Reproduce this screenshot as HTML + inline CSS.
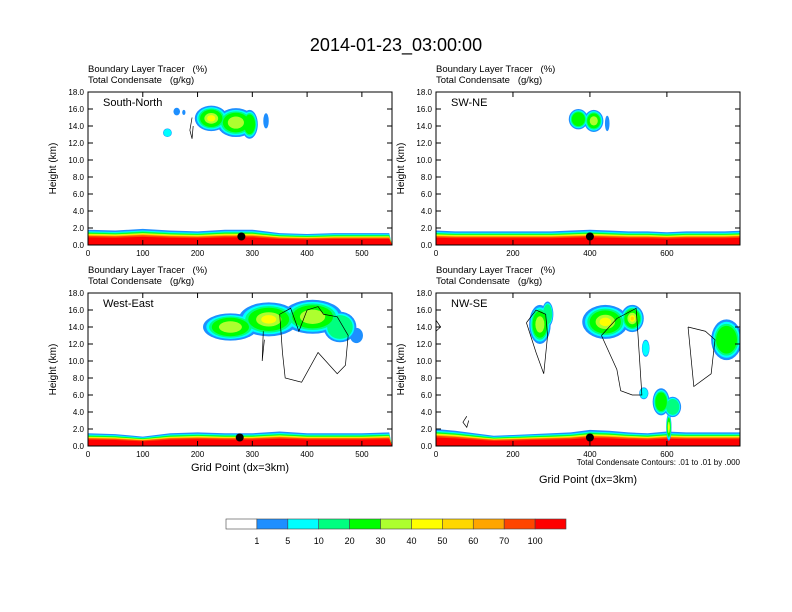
<!DOCTYPE html>
<html><head><meta charset="utf-8"><style>
html,body{margin:0;padding:0;background:#fff;}
svg{display:block;font-family:"Liberation Sans",sans-serif;}
.pre{white-space:pre;}
</style></head><body>
<svg id="fig" width="792" height="612" viewBox="0 0 792 612">
<text x="396" y="51" font-size="18" text-anchor="middle">2014-01-23_03:00:00</text>
</svg>
<script>
// ---- data ----
const levels = [1,5,10,20,30,40,50,60,70,100];
const levelColors = ["#ffffff","#1e8fff","#00ffff","#00ff80","#00ff00","#adff2f","#ffff00","#ffd700","#ffa500","#ff4500","#ff0000"];
const yTicks = [0,2,4,6,8,10,12,14,16,18];
const panelNames = ["South-North","SW-NE","West-East","NW-SE"];
const panelXMax = [555,790,555,790];
const panelXTicks = [[0,100,200,300,400,500],[0,200,400,600],[0,100,200,300,400,500],[0,200,400,600]];
// boundary layer top (km) sampled every 50 grid points
const blTop = [
 [1.8,1.7,1.9,1.7,1.6,1.8,1.8,1.4,1.3,1.4,1.4,1.4],
 [1.7,1.6,1.6,1.6,1.6,1.6,1.6,1.7,1.8,1.7,1.6,1.6,1.5,1.6,1.6,1.6,1.7],
 [1.5,1.4,1.1,1.5,1.6,1.5,1.5,1.7,1.5,1.5,1.5,1.6],
 [2.0,1.8,1.5,1.2,1.3,1.4,1.5,1.6,1.9,1.8,1.6,1.5,1.7,1.6,1.6,1.6,1.6]
];
// cloud blobs: [centerGrid, centerKm, radiusGrid, radiusKm, maxLevelIndex]
const clouds = [
 [[225,14.9,30,1.5,6],[270,14.4,35,1.7,5],[295,14.2,15,1.7,4],[145,13.2,8,0.5,2],[162,15.7,6,0.45,1],[175,15.6,3,0.3,1],[325,14.6,5,0.9,1]],
 [[370,14.8,25,1.2,4],[410,14.6,25,1.3,5],[445,14.3,6,0.9,1]],
 [[260,14.0,50,1.6,5],[330,14.9,55,2.0,6],[410,15.2,55,2.0,5],[460,14.0,30,1.8,3],[490,13.0,12,0.9,1]],
 [[270,14.3,28,2.3,5],[290,15.5,15,1.5,3],[440,14.6,60,2.0,6],[510,15.0,30,1.6,7],[545,11.5,10,1.0,2],[585,5.2,22,1.6,4],[615,4.6,22,1.2,3],[540,6.2,12,0.7,2],[755,12.5,40,2.4,4],[605,2.2,7,1.6,6]]
];
const dotsGrid = [280,400,277,400];
const dotsKm = [1.0,1.0,1.0,1.0];
// contours [gridX,km] pairs
const contours = [
 [[[190,15],[186,13.5],[190,12.5],[192,14]]],
 [],
 [[[320,13.5],[318,10],[322,12.5]],[[350,15.5],[370,16.2],[385,13.5],[400,16],[420,16.4],[430,15.5],[455,15.2],[475,13],[470,9.5],[455,8.5],[420,11],[390,7.5],[360,8],[355,11],[350,15.5]]],
 [[[235,14.5],[260,16],[285,15.5],[290,13],[280,8.5],[260,11],[235,14.5]],[[430,13],[470,15],[520,16.2],[525,13],[535,6],[510,6],[480,6.5],[470,9],[430,13]],[[655,14],[700,13.5],[725,12.5],[715,8.5],[670,7],[655,14]],[[0,14.8],[12,14],[0,13.5]],[[80,3.5],[70,2.8],[80,2.2],[85,3]]]
];
const panelBoxes = [[88,92],[436,92],[88,293],[436,293]];
const PW = 304, PH = 153;
const shrink = [1,0.88,0.78,0.68,0.42,0.25,0.14,0.08];
const svg = document.getElementById('fig');
const NS = "http://www.w3.org/2000/svg";
function mk(t, a, p){const e=document.createElementNS(NS,t);for(const k in a)e.setAttribute(k,a[k]);(p||svg).appendChild(e);return e;}

for(let p=0;p<4;p++){
  const [X0,Y0]=panelBoxes[p];
  const g=mk('g',{});
  
  
  const sx=v=>X0+v/panelXMax[p]*PW;
  const sy=v=>Y0+PH-v/18*PH;
  const cid='clip'+p;
  const cp=mk('clipPath',{id:cid},g);mk('rect',{x:X0,y:Y0,width:PW,height:PH},cp);
  const plot=mk('g',{'clip-path':'url(#'+cid+')'},g);
  const fr=[1,0.9,0.84,0.79,0.74,0.7,0.67,0.64,0.6,0.5];
  for(let L=1;L<=10;L++){
    const arr=blTop[p];let d='M'+sx(0)+','+sy(0);
    arr.forEach((h,i)=>{d+=' L'+sx(i*50)+','+sy(h*fr[L-1]);});
    d+=' L'+sx(panelXMax[p])+','+sy(0)+' Z';
    const e=mk('path',{d:d,fill:levelColors[L]},plot);
    
    
  }
  for(let L=1;L<=7;L++){
    clouds[p].forEach(c=>{
      if(L>c[4])return;
      const f=shrink[L-1];
      const e=mk('ellipse',{cx:sx(c[0]),cy:sy(c[1]),rx:Math.abs(sx(c[2]*f)-sx(0)),ry:Math.abs(sy(c[3]*f)-sy(0)),fill:levelColors[L]},plot);
      
      
    });
  }
  contours[p].forEach(c=>{
    const e=mk('polyline',{points:c.map(q=>sx(q[0])+','+sy(q[1])).join(' '),fill:'none',stroke:'#000','stroke-width':0.7},plot);
    
    
  });
  const dot=mk('circle',{cx:sx(dotsGrid[p]),cy:sy(dotsKm[p]),r:4,fill:'#000'},g);
  
  
  mk('rect',{x:X0,y:Y0,width:PW,height:PH,fill:'none',stroke:'#000','stroke-width':1},g);
  yTicks.forEach(v=>{
    mk('line',{x1:X0,x2:X0+5,y1:sy(v),y2:sy(v),stroke:'#000'},g);
    mk('line',{x1:X0+PW,x2:X0+PW-5,y1:sy(v),y2:sy(v),stroke:'#000'},g);
    const t=mk('text',{x:X0-4,y:sy(v)+3,'font-size':8,'text-anchor':'end'},g);t.textContent=v.toFixed(1);
    
  });
  panelXTicks[p].forEach(v=>{
    mk('line',{x1:sx(v),x2:sx(v),y1:Y0+PH,y2:Y0+PH-5,stroke:'#000'},g);
    mk('line',{x1:sx(v),x2:sx(v),y1:Y0,y2:Y0+5,stroke:'#000'},g);
    const t=mk('text',{x:sx(v),y:Y0+PH+11,'font-size':8,'text-anchor':'middle'},g);t.textContent=v;
    
  });
  const lab=mk('text',{x:X0+15,y:Y0+14,'font-size':11},g);lab.textContent=panelNames[p];
  
  const h1=mk('text',{x:X0,y:Y0-20,'font-size':9.5,'class':'pre'},g);h1.textContent='Boundary Layer Tracer   (%)';
  
  const h2=mk('text',{x:X0,y:Y0-9,'font-size':9.5,'class':'pre'},g);h2.textContent='Total Condensate   (g/kg)';
  
  const yt=mk('text',{x:0,y:0,'font-size':10,'text-anchor':'middle',transform:'translate('+(X0-32)+','+(Y0+PH/2)+') rotate(-90)'},g);yt.textContent='Height (km)';
  
}
let t=mk('text',{x:240,y:471,'font-size':11,'text-anchor':'middle'});t.textContent='Grid Point (dx=3km)';

t=mk('text',{x:588,y:483,'font-size':11,'text-anchor':'middle'});t.textContent='Grid Point (dx=3km)';

t=mk('text',{x:740,y:465,'font-size':8,'text-anchor':'end'});t.textContent='Total Condensate Contours: .01 to .01 by .000';

const cbX=226,cbW=340,cbY=519,cbH=10,bw=cbW/levelColors.length;
levelColors.forEach((c,i)=>{
  const r=mk('rect',{x:cbX+i*bw,y:cbY,width:bw,height:cbH,fill:c,stroke:'#444','stroke-width':0.6});
  
});
levels.forEach((v,i)=>{
  const l=mk('text',{x:cbX+(i+1)*bw,y:cbY+25,'font-size':9,'text-anchor':'middle'});l.textContent=v;
  
});
</script>
</body></html>
